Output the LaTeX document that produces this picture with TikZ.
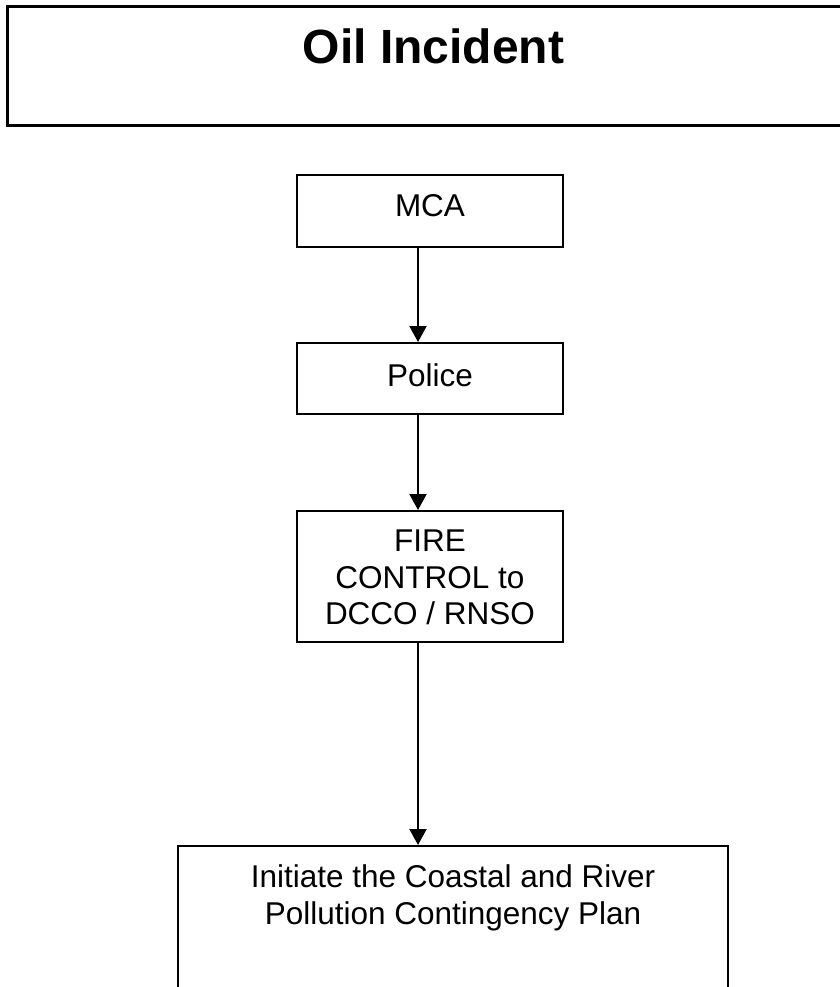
\documentclass[tikz,border=0pt]{standalone}
\usepackage{fontspec}
\setmainfont{Liberation Sans}
\usetikzlibrary{arrows.meta, positioning}

\begin{document}
\begin{tikzpicture}[
    x=1pt, y=-1pt,
    title box/.style={rectangle, draw, line width=3pt, minimum width=853pt, minimum height=119pt, inner sep=0pt},
    title text/.style={inner sep=0pt, font=\fontsize{48}{58}\selectfont\bfseries},
    flow box/.style={rectangle, draw, line width=2pt, minimum width=266pt, inner sep=0pt},
    box text/.style={inner sep=0pt, align=center, font=\fontsize{31.5}{36.5}\selectfont},
    >={Triangle[length=16pt, width=17pt]},
    line width=2pt
]
    \useasboundingbox (0,0) rectangle (839,987);

    % Heading
    \node[title box] (incident) at (433.5, 66.5) {};
    \node[title text, below=22pt of incident.north] (incidentText) {Oil Incident};

    % Call chain
    \node[flow box, minimum height=72pt] (mca) at (430, 211) {};
    \node[box text, below=20pt of mca.north] (mcaText) {MCA};
    \node[flow box, minimum height=71pt] (police) at (430, 378.5) {};
    \node[box text, below=21pt of police.north] (policeText) {Police};
    \node[flow box, minimum height=131pt] (fire) at (430, 576.5) {};
    \node[box text, below=19pt of fire.north] (fireText) {FIRE\\CONTROL to\\DCCO / RNSO};

    % Plan
    \node[flow box, minimum width=550pt, minimum height=170pt] (plan) at (453, 931) {};
    \node[box text, below=19pt of plan.north] (planText) {Initiate the Coastal and River\\Pollution Contingency Plan};

    \draw[->] ([xshift=-12pt]mca.south) -- ([xshift=-12pt]police.north);
    \draw[->] ([xshift=-12pt]police.south) -- ([xshift=-12pt]fire.north);
    \draw[->] ([xshift=-12pt]fire.south) -- ([xshift=-35pt]plan.north);
\end{tikzpicture}
\end{document}
